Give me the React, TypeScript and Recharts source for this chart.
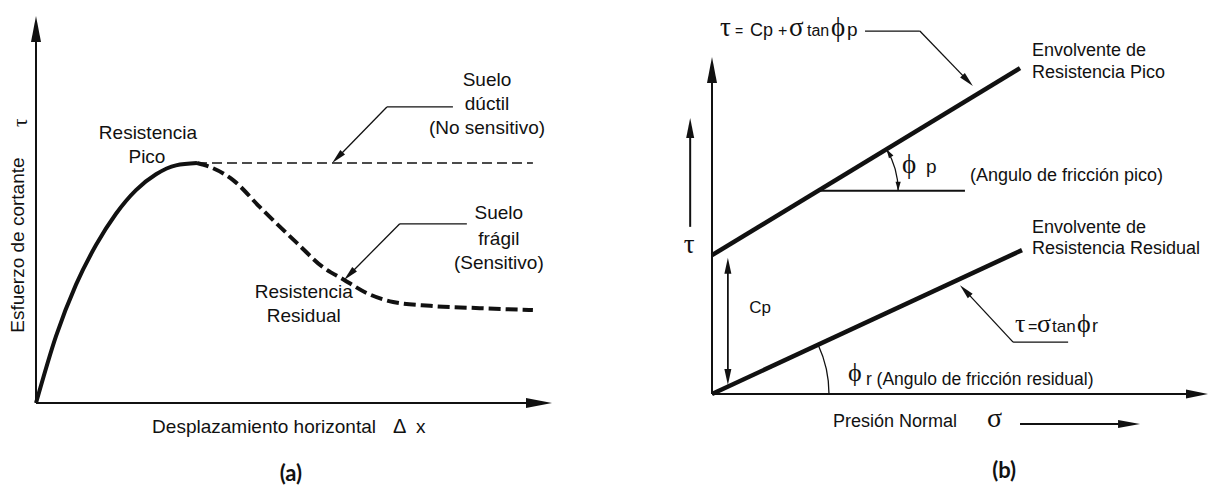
import React from 'react';
import { ComposedChart, Line, XAxis, YAxis, ReferenceLine, ReferenceDot } from 'recharts';

// ---- Panel (a): shear stress vs. horizontal displacement ----
const rampDisp = [0, 3.88, 7.75, 11.63, 15.5, 19.38, 23.26, 27.13, 31.2];
const rampTau = [0, 17.3, 30.6, 40.8, 48.9, 55.0, 59.1, 61.4, 62];
const brittleDisp = [31.2, 33.7, 38.2, 43.4, 50.6, 55.6, 59.5, 64.1, 69.2, 76.4, 86, 96.3];
const brittleTau = [62, 61, 57.6, 50.6, 41.3, 35.1, 32, 28.4, 26.1, 25.1, 24.5, 24];
const ductileDisp = [31.2, 96.3];
const ductileTau = [62, 62];

// ---- Panel (b): failure envelopes, tau vs. normal stress ----
const sigmaPeak = [0, 62.1];
const tauPeak = [41.2, 96.7];
const sigmaResidual = [0, 62.5];
const tauResidual = [0, 42.7];

const zip = (xs: number[], ys: number[]) => xs.map((x, i) => ({ x, y: ys[i] }));

const rampData = zip(rampDisp, rampTau);
const brittleData = zip(brittleDisp, brittleTau);
const ductileData = zip(ductileDisp, ductileTau);
const peakData = zip(sigmaPeak, tauPeak);
const residualData = zip(sigmaResidual, tauResidual);

const SANS = "'Liberation Sans', Arial, Helvetica, sans-serif";
const SERIF = "'Liberation Serif', 'Times New Roman', 'DejaVu Serif', serif";
const BOLD = "Lato, 'Open Sans', sans-serif";
const INK = '#111';

type Pt = { x: number; y: number };
type Piece = { t: string; dx: number; size: number; serif?: boolean; dy?: number };

// arrowhead polygon with its tip at (x2, y2)
const headPath = (x1: number, y1: number, x2: number, y2: number, len: number, hw: number) => {
  const L = Math.hypot(x2 - x1, y2 - y1) || 1;
  const ux = (x2 - x1) / L;
  const uy = (y2 - y1) / L;
  const bx = x2 - ux * len;
  const by = y2 - uy * len;
  return `M${x2},${y2}L${bx - uy * hw},${by + ux * hw}L${bx + uy * hw},${by - ux * hw}Z`;
};

const segShape =
  (w: number, head?: { len: number; hw: number }, both = false) =>
  (p: any) => {
    const { x1, y1, x2, y2 } = p;
    const L = Math.hypot(x2 - x1, y2 - y1) || 1;
    const ux = (x2 - x1) / L;
    const uy = (y2 - y1) / L;
    const cut = head ? head.len * 0.8 : 0;
    const sx = both ? x1 + ux * cut : x1;
    const sy = both ? y1 + uy * cut : y1;
    const ex = head ? x2 - ux * cut : x2;
    const ey = head ? y2 - uy * cut : y2;
    return (
      <g>
        <line x1={sx} y1={sy} x2={ex} y2={ey} stroke={INK} strokeWidth={w} />
        {head && <path d={headPath(x1, y1, x2, y2, head.len, head.hw)} fill={INK} />}
        {head && both && <path d={headPath(x2, y2, x1, y1, head.len, head.hw)} fill={INK} />}
      </g>
    );
  };

// angle arc between the segment direction and the horizontal, centred on the segment start
const arcShape = (r: number, heads: boolean) => (p: any) => {
  const { x1, y1, x2, y2 } = p;
  const a = Math.atan2(y2 - y1, x2 - x1);
  const sx = x1 + r * Math.cos(a);
  const sy = y1 + r * Math.sin(a);
  const ex = x1 + r;
  const ey = y1;
  const len = 9;
  const hw = 2.6;
  const tStart = { x: Math.sin(a), y: -Math.cos(a) };
  return (
    <g>
      <path d={`M${sx},${sy}A${r},${r} 0 0 1 ${ex},${ey}`} fill="none" stroke={INK} strokeWidth={1.3} />
      {heads && <path d={headPath(ex, ey - len, ex, ey, len, hw)} fill={INK} />}
      {heads && <path d={headPath(sx - tStart.x * len, sy - tStart.y * len, sx, sy, len, hw)} fill={INK} />}
    </g>
  );
};

const centered =
  (t: string, size: number, opts: { anchor?: 'start' | 'middle' | 'end'; serif?: boolean; bold?: boolean; family?: string; rotate?: number } = {}) =>
  (p: any) => (
    <text
      x={p.cx}
      y={p.cy}
      textAnchor={opts.anchor ?? 'middle'}
      dominantBaseline="central"
      fontSize={size}
      fontWeight={opts.bold ? 700 : 400}
      fontFamily={opts.family ?? (opts.serif ? SERIF : SANS)}
      fill={INK}
      transform={opts.rotate ? `rotate(${opts.rotate} ${p.cx} ${p.cy})` : undefined}
    >
      {t}
    </text>
  );

const pieces = (parts: Piece[]) => (p: any) => (
  <g>
    {parts.map((q, i) => (
      <text key={i} x={p.cx + q.dx} y={p.cy + (q.dy ?? 0)} fontSize={q.size} fontFamily={q.serif ? SERIF : SANS} fill={INK}>
        {q.t}
      </text>
    ))}
  </g>
);

type Note = { at: Pt; shape: (p: any) => React.ReactElement };
type Seg = { from: Pt; to: Pt; shape: (p: any) => React.ReactElement };

const AXIS_HEAD = { len: 26, hw: 5 };
const LEADER_HEAD = { len: 15, hw: 3.3 };

// ---- annotations, panel (a) ----
const notesA: Note[] = [
  { at: { x: 21.7, y: 69.8 }, shape: centered('Resistencia', 19) },
  { at: { x: 21.5, y: 63.6 }, shape: centered('Pico', 19) },
  { at: { x: 87.4, y: 83.5 }, shape: centered('Suelo', 19) },
  { at: { x: 87.4, y: 77.5 }, shape: centered('dúctil', 19) },
  { at: { x: 87.4, y: 71.3 }, shape: centered('(No sensitivo)', 19) },
  { at: { x: 89.7, y: 49.1 }, shape: centered('Suelo', 19) },
  { at: { x: 89.7, y: 42.6 }, shape: centered('frágil', 19) },
  { at: { x: 89.7, y: 36.2 }, shape: centered('(Sensitivo)', 19) },
  { at: { x: 51.9, y: 28.7 }, shape: centered('Resistencia', 19) },
  { at: { x: 51.9, y: 22.7 }, shape: centered('Residual', 19) },
  { at: { x: -3.5, y: 40.8 }, shape: centered('Esfuerzo de cortante', 19, { rotate: -90 }) },
  { at: { x: -3.1, y: 72.4 }, shape: centered('τ', 21, { rotate: -90, serif: true }) },
  {
    at: { x: 22.5, y: -7.75 },
    shape: pieces([
      { t: 'Desplazamiento horizontal', dx: 0, size: 19 },
      { t: 'Δ', dx: 241, size: 20 },
      { t: 'x', dx: 264, size: 19 },
    ]),
  },
  { at: { x: 49.4, y: -18.0 }, shape: centered('(a)', 22, { bold: true, family: BOLD }) },
];

const segsA: Seg[] = [
  { from: { x: 0, y: 0 }, to: { x: 0, y: 100 }, shape: segShape(2, AXIS_HEAD) },
  { from: { x: 0, y: 0 }, to: { x: 100, y: 0 }, shape: segShape(2, AXIS_HEAD) },
  { from: { x: 80.8, y: 76.5 }, to: { x: 68.0, y: 76.5 }, shape: segShape(1.3) },
  { from: { x: 68.0, y: 76.5 }, to: { x: 57.4, y: 62.0 }, shape: segShape(1.3, LEADER_HEAD) },
  { from: { x: 83.5, y: 46.3 }, to: { x: 70.5, y: 46.3 }, shape: segShape(1.3) },
  { from: { x: 70.5, y: 46.3 }, to: { x: 59.7, y: 31.8 }, shape: segShape(1.3, LEADER_HEAD) },
];

// ---- annotations, panel (b) ----
const notesB: Note[] = [
  {
    at: { x: 1.61, y: 106.2 },
    shape: pieces([
      { t: 'τ', dx: 0, size: 27, serif: true },
      { t: '=', dx: 15, size: 14 },
      { t: 'Cp', dx: 30, size: 18 },
      { t: '+', dx: 58, size: 16 },
      { t: 'σ', dx: 69, size: 27, serif: true },
      { t: 'tan', dx: 87, size: 16 },
      { t: 'ϕ', dx: 111, size: 27, serif: true },
      { t: 'p', dx: 127, size: 19 },
    ]),
  },
  { at: { x: 64.5, y: 102.1 }, shape: centered('Envolvente de', 18, { anchor: 'start' }) },
  { at: { x: 64.5, y: 95.5 }, shape: centered('Resistencia Pico', 18, { anchor: 'start' }) },
  {
    at: { x: 38.3, y: 65.6 },
    shape: pieces([
      { t: 'ϕ', dx: 0, size: 27, serif: true },
      { t: 'p', dx: 24, size: 19 },
    ]),
  },
  { at: { x: 52.0, y: 65.0 }, shape: centered('(Angulo de fricción pico)', 18, { anchor: 'start' }) },
  { at: { x: 64.5, y: 49.6 }, shape: centered('Envolvente de', 18, { anchor: 'start' }) },
  { at: { x: 64.5, y: 43.3 }, shape: centered('Resistencia Residual', 18, { anchor: 'start' }) },
  { at: { x: -4.6, y: 44.5 }, shape: centered('τ', 27, { serif: true }) },
  { at: { x: 9.7, y: 25.8 }, shape: centered('Cp', 17) },
  {
    at: { x: 61.1, y: 18.4 },
    shape: pieces([
      { t: 'τ', dx: 0, size: 26, serif: true },
      { t: '=', dx: 13, size: 16 },
      { t: 'σ', dx: 22, size: 26, serif: true },
      { t: 'tan', dx: 37, size: 17 },
      { t: 'ϕ', dx: 62, size: 26, serif: true },
      { t: 'r', dx: 77, size: 18 },
    ]),
  },
  {
    at: { x: 27.4, y: 2.67 },
    shape: pieces([
      { t: 'ϕ', dx: 0, size: 26, serif: true, dy: -4 },
      { t: 'r (Angulo de fricción residual)', dx: 18, size: 17.5 },
    ]),
  },
  {
    at: { x: 24.4, y: -9.8 },
    shape: pieces([
      { t: 'Presión Normal', dx: 0, size: 18 },
      { t: 'σ', dx: 154, size: 28, serif: true },
    ]),
  },
  { at: { x: 58.9, y: -22.3 }, shape: centered('(b)', 22, { bold: true, family: BOLD }) },
];

const segsB: Seg[] = [
  { from: { x: 0, y: 0 }, to: { x: 0, y: 100 }, shape: segShape(2, AXIS_HEAD) },
  { from: { x: 0, y: 0 }, to: { x: 100, y: 0 }, shape: segShape(2, { len: 22, hw: 4.5 }) },
  { from: { x: 21.4, y: 60.3 }, to: { x: 51, y: 60.3 }, shape: segShape(2) },
  { from: { x: 21.4, y: 60.3 }, to: { x: 62.1, y: 96.7 }, shape: arcShape(80, true) },
  { from: { x: 0, y: 0 }, to: { x: 62.5, y: 42.7 }, shape: arcShape(117, false) },
  { from: { x: 30.85, y: 107.7 }, to: { x: 41.9, y: 107.7 }, shape: segShape(1.3) },
  { from: { x: 41.9, y: 107.7 }, to: { x: 52.6, y: 91.4 }, shape: segShape(1.3, LEADER_HEAD) },
  { from: { x: 71.8, y: 15.4 }, to: { x: 60.7, y: 15.4 }, shape: segShape(1.3) },
  { from: { x: 60.7, y: 15.4 }, to: { x: 50.0, y: 32.3 }, shape: segShape(1.3, LEADER_HEAD) },
  { from: { x: -4.4, y: 49.6 }, to: { x: -4.4, y: 81.9 }, shape: segShape(2, { len: 20, hw: 4 }) },
  { from: { x: 3.2, y: 2.7 }, to: { x: 3.2, y: 40.4 }, shape: segShape(1.8, { len: 16, hw: 3.5 }, true) },
  { from: { x: 62.1, y: -8.9 }, to: { x: 86.3, y: -8.9 }, shape: segShape(2, { len: 22, hw: 4 }) },
];

const renderNotes = (notes: Note[], tag: string) =>
  notes.map((n, i) => (
    <ReferenceDot key={`${tag}-n${i}`} x={n.at.x} y={n.at.y} r={1} ifOverflow="visible" shape={n.shape} />
  ));

const renderSegs = (segs: Seg[], tag: string) =>
  segs.map((s, i) => (
    <ReferenceLine key={`${tag}-s${i}`} segment={[s.from, s.to]} ifOverflow="visible" shape={s.shape} />
  ));

export default function App() {
  return (
    <div style={{ position: 'absolute', left: 0, top: 0, width: 1212, height: 487, background: '#fff', display: 'flex' }}>
      <ComposedChart width={606} height={487} margin={{ top: 16, left: 36, right: 54, bottom: 84 }}>
        <XAxis type="number" dataKey="x" domain={[0, 100]} hide />
        <YAxis type="number" dataKey="y" domain={[0, 100]} hide />
        {renderSegs(segsA, 'a')}
        <Line data={ductileData} dataKey="y" type="linear" stroke={INK} strokeWidth={1.6} strokeDasharray="10 5" dot={false} activeDot={false} isAnimationActive={false} />
        <Line data={brittleData} dataKey="y" type="monotone" stroke={INK} strokeWidth={4} strokeDasharray="12 5" dot={false} activeDot={false} isAnimationActive={false} />
        <Line data={rampData} dataKey="y" type="monotone" stroke={INK} strokeWidth={4} dot={false} activeDot={false} isAnimationActive={false} />
        {renderNotes(notesA, 'a')}
      </ComposedChart>
      <ComposedChart width={606} height={487} margin={{ top: 57, left: 106, right: 4, bottom: 93 }}>
        <XAxis type="number" dataKey="x" domain={[0, 100]} hide />
        <YAxis type="number" dataKey="y" domain={[0, 100]} hide />
        {renderSegs(segsB, 'b')}
        <Line data={peakData} dataKey="y" type="linear" stroke={INK} strokeWidth={4.5} dot={false} activeDot={false} isAnimationActive={false} />
        <Line data={residualData} dataKey="y" type="linear" stroke={INK} strokeWidth={4.5} dot={false} activeDot={false} isAnimationActive={false} />
        {renderNotes(notesB, 'b')}
      </ComposedChart>
    </div>
  );
}
